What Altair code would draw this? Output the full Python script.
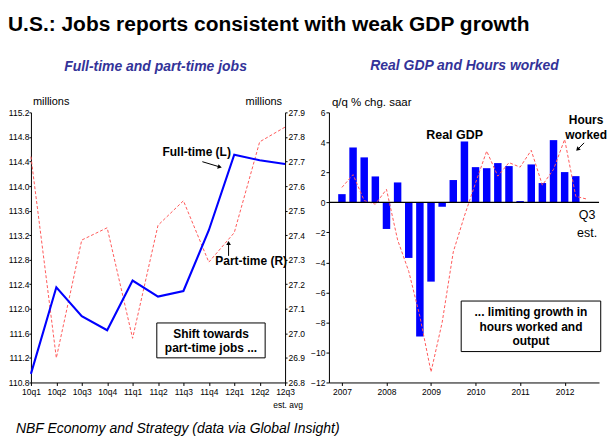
import altair as alt
import pandas as pd

# ---------------- data ----------------
quarters = ["10q1", "10q2", "10q3", "10q4", "11q1", "11q2", "11q3", "11q4", "12q1", "12q2", "12q3"]
full_time = [110.94, 112.35, 111.88, 111.65, 112.46, 112.20, 112.29, 113.28, 114.51, 114.42, 114.36]
part_time = [27.72, 26.90, 27.38, 27.43, 26.98, 27.44, 27.54, 27.29, 27.41, 27.78, 27.84]
left_ticks = [110.8, 111.2, 111.6, 112.0, 112.4, 112.8, 113.2, 113.6, 114.0, 114.4, 114.8, 115.2]
right_ticks = [26.8, 26.9, 27.0, 27.1, 27.2, 27.3, 27.4, 27.5, 27.6, 27.7, 27.8, 27.9]

gdp_years = [2007, 2007, 2007, 2007, 2008, 2008, 2008, 2008, 2009, 2009, 2009, 2009,
             2010, 2010, 2010, 2010, 2011, 2011, 2011, 2011, 2012, 2012]
gdp_q = [1, 2, 3, 4, 1, 2, 3, 4, 1, 2, 3, 4, 1, 2, 3, 4, 1, 2, 3, 4, 1, 2]
real_gdp = [0.55, 3.66, 3.00, 1.73, -1.77, 1.33, -3.70, -8.93, -5.28, -0.29, 1.49, 4.06,
            2.35, 2.28, 2.62, 2.42, 0.09, 2.53, 1.29, 4.15, 2.02, 1.75]

hrs_years = gdp_years + [2012]
hrs_q = gdp_q + [3]
hours_worked = [1.00, 1.85, 0.12, -0.12, 0.87, -2.50, -4.60, -7.60, -11.30, -8.00, -3.30, -0.90,
                1.30, 3.42, 1.75, 2.65, 2.35, 3.47, 1.15, 2.20, 4.20, 0.40, 0.22]
year_ticks = [2007, 2008, 2009, 2010, 2011, 2012]
gdp_ticks = [6, 4, 2, 0, -2, -4, -6, -8, -10, -12]

df_l = pd.DataFrame({"q": quarters, "ft": full_time, "pt": part_time})
df_g = pd.DataFrame({"t": [y + (q - 1) / 4 for y, q in zip(gdp_years, gdp_q)], "v": real_gdp})
df_h = pd.DataFrame({"t": [y + (q - 1) / 4 for y, q in zip(hrs_years, hrs_q)], "v": hours_worked})

one = pd.DataFrame({"a": [0]})
TICKFONT = "Liberation Sans Narrow, Arial Narrow, Liberation Sans, Arial"
SANS = "Liberation Sans, Arial, sans-serif"
BLUE = "#0000FF"
RED = "#FF5A5A"
SUB = "#333399"


def txt(s, x, y, size=12, weight="bold", align="left", baseline="alphabetic",
        style="normal", color="black", font=SANS, lh=None):
    kw = dict(text=s, fontSize=size, fontWeight=weight, align=align, baseline=baseline,
              fontStyle=style, color=color, font=font)
    if lh is not None:
        kw["lineHeight"] = lh
    return alt.Chart(one).mark_text(**kw).encode(x=alt.value(x), y=alt.value(y))


def box(x1, y1, x2, y2):
    return alt.Chart(one).mark_rect(fill="white", stroke="black", strokeWidth=1).encode(
        x=alt.value(x1), x2=alt.value(x2), y=alt.value(y1), y2=alt.value(y2))


def arrow(x1, y1, x2, y2, hx, hy, ang):
    line = alt.Chart(one).mark_rule(color="black", strokeWidth=1).encode(
        x=alt.value(x1), x2=alt.value(x2), y=alt.value(y1), y2=alt.value(y2))
    head = alt.Chart(one).mark_point(shape="triangle-up", filled=True, color="black",
                                     size=22, angle=ang, opacity=1).encode(
        x=alt.value(hx), y=alt.value(hy))
    return [line, head]


# ---------------- left panel ----------------
xq = alt.X("q:O", sort=quarters, scale=alt.Scale(type="point", padding=0),
           axis=alt.Axis(title=None, labelAngle=0, tickSize=3, labelPadding=2))

pt_line = alt.Chart(df_l).mark_line(color=RED, strokeWidth=1, strokeDash=[3, 2]).encode(
    x=xq,
    y=alt.Y("pt:Q", scale=alt.Scale(domain=[26.8, 27.9], nice=False, zero=False),
            axis=alt.Axis(title=None, orient="right", values=right_ticks, format=".1f",
                          tickSize=2, labelPadding=1)))
ft_line = alt.Chart(df_l).mark_line(color=BLUE, strokeWidth=2.1).encode(
    x=xq,
    y=alt.Y("ft:Q", scale=alt.Scale(domain=[110.8, 115.2], nice=False, zero=False),
            axis=alt.Axis(title=None, orient="left", values=left_ticks, format=".1f",
                          tickSize=2, labelPadding=0)))

left_ann = [
    txt("U.S.: Jobs reports consistent with weak GDP growth", -23, -82, size=21),
    txt("Full-time and part-time jobs", 125, -42, size=14, align="center", style="italic", color=SUB),
    txt("millions", 2, -7, size=11, weight="normal"),
    txt("millions", 252, -7, size=11, weight="normal", align="right"),
    txt("Full-time (L)", 132, 40, baseline="middle"),
    txt("Part-time (R)", 185, 149, baseline="middle"),
    *arrow(172, 49.5, 189, 54.6, 189.5, 54.8, 107),
    *arrow(198.3, 144, 198.3, 131, 198.3, 131, 0),
    box(126.3, 211.3, 235, 246.3),
    txt(["Shift towards", "part-time jobs ..."], 180.7, 222.5, align="center",
        baseline="middle", lh=14),
    txt("est. avg", 258, 297, size=8.5, weight="normal", align="center", font=TICKFONT),
    txt("NBF Economy and Strategy (data via Global Insight)", -15, 322, size=14,
        weight="normal", style="italic"),
]

left = alt.layer(pt_line, ft_line, *left_ann).resolve_scale(y="independent").properties(
    width=255, height=271)

# ---------------- right panel ----------------
xt = alt.X("t:Q", scale=alt.Scale(domain=[2006.82, 2012.66], nice=False, zero=False),
           axis=alt.Axis(title=None, values=year_ticks, format="d", tickSize=3,
                         labelFlush=False, labelPadding=2))
yg = alt.Y("v:Q", scale=alt.Scale(domain=[-12, 6], nice=False),
           axis=alt.Axis(title=None, values=gdp_ticks, format="d", tickSize=3, labelPadding=1))

bars = alt.Chart(df_g).mark_bar(color=BLUE, size=7.5).encode(x=xt, y=yg)
zero = alt.Chart(pd.DataFrame({"v": [0]})).mark_rule(color="black", strokeWidth=1.2).encode(y=yg)
hrs = alt.Chart(df_h).mark_line(color=RED, strokeWidth=1, strokeDash=[3, 2]).encode(x=xt, y=yg)

right_ann = [
    txt("Real GDP and Hours worked", 136, -42.7, size=14, align="center", style="italic", color=SUB),
    txt("q/q % chg. saar", 3, -6.5, size=11.5, weight="normal"),
    txt("Real GDP", 97.7, 23, size=12.5, baseline="middle"),
    txt(["Hours", "worked"], 258, 8, align="center", baseline="middle", lh=14.6),
    *arrow(256, 30.6, 249.5, 37.2, 249.5, 37.2, 225),
    txt(["Q3", "est."], 259, 103, size=12.5, weight="normal", align="center",
        baseline="middle", lh=17.6),
    box(132.7, 189.3, 272.7, 240),
    txt(["... limiting growth in", "hours worked and", "output"], 202.7, 200.5,
        align="center", baseline="middle", lh=14.5),
]

right = alt.layer(bars, hrs, zero, *right_ann).properties(width=271, height=271)

chart = alt.hconcat(left, right, spacing=44, bounds="flush").properties(
    padding={"left": 0, "top": 5, "right": 0, "bottom": 0}
).configure_axis(
    grid=False, domainColor="black", tickColor="black", labelColor="black",
    labelFont=TICKFONT, labelFontSize=8.5, domainWidth=1, labelOverlap=False
).configure_view(stroke=None)

chart.save("out.html", embed_options={"renderer": "svg", "actions": False})
